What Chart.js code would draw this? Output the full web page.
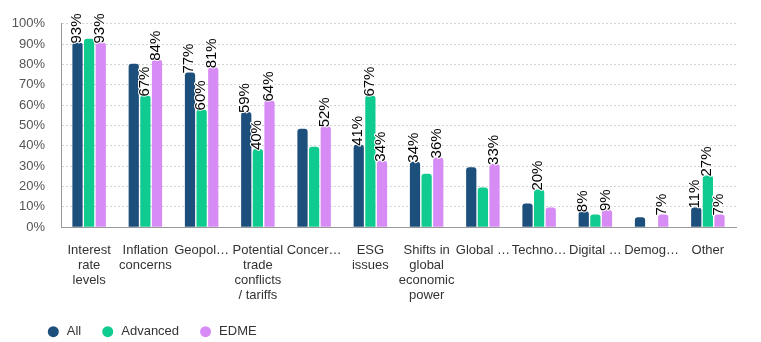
<!DOCTYPE html>
<html>
<head>
<meta charset="utf-8">
<script src="https://cdn.jsdelivr.net/npm/chart.js"></script>
<style>
  body { margin: 0; background: #fff; }
  #wrap { width: 761px; height: 342px; }
</style>
</head>
<body>
<div id="wrap"><canvas id="chart"></canvas></div>
<script>
const categories = [
    ["Interest", "rate", "levels"],
    ["Inflation", "concerns"],
    "Geopol…",
    ["Potential", "trade", "conflicts", "/ tariffs"],
    "Concer…",
    ["ESG", "issues"],
    ["Shifts in", "global", "economic", "power"],
    "Global …",
    "Techno…",
    "Digital …",
    "Demog…",
    "Other",
];

const allValues = [90.8, 80.4, 76, 56.6, 48.4, 40.5, 32.2, 29.5, 11.7, 7.9, 4.9, 9.7];
const advancedValues = [92.6, 64.7, 57.9, 38.4, 39.5, 64.7, 26.3, 19.5, 18.5, 6.3, null, 25.4];
const edmeValues = [90.8, 82.3, 78.6, 62.3, 49.6, 32.7, 34.3, 31.1, 9.7, 8.4, 6.3, 6.3];

// labels that are visible in the picture (others are hidden by overlap)
const allLabels = ["93%", null, "77%", "59%", null, "41%", "34%", null, null, "8%", null, "11%"];
const advancedLabels = [null, "67%", "60%", "40%", null, "67%", null, null, "20%", null, null, "27%"];
const edmeLabels = ["93%", "84%", "81%", "64%", "52%", "34%", "36%", "33%", null, "9%", "7%", "7%"];

const seriesNames = ["All", "Advanced", "EDME"];
const seriesColors = ["#1d4f7c", "#10cb8f", "#d78cf5"];
const yTicks = [0, 10, 20, 30, 40, 50, 60, 70, 80, 90, 100];

const FONT = "'Liberation Sans', Arial, sans-serif";

const barLabels = {
    id: "barLabels",
    afterDatasetsDraw(chart) {
        const ctx = chart.ctx;
        ctx.save();
        ctx.font = "15px " + FONT;
        ctx.textAlign = "left";
        ctx.textBaseline = "middle";
        ctx.lineJoin = "round";
        chart.data.datasets.forEach((ds, i) => {
            const meta = chart.getDatasetMeta(i);
            meta.data.forEach((bar, j) => {
                const text = ds.shownLabels[j];
                if (!text) return;
                ctx.save();
                ctx.translate(bar.x - 1, bar.y + 1);
                ctx.rotate(-Math.PI / 2);
                ctx.strokeStyle = "#fff";
                ctx.lineWidth = 2;
                ctx.strokeText(text, 0, 0);
                ctx.fillStyle = "#000";
                ctx.fillText(text, 0, 0);
                ctx.restore();
            });
        });
        ctx.restore();
    },
};

const bottomLegend = {
    id: "bottomLegend",
    afterDraw(chart) {
        const ctx = chart.ctx;
        ctx.save();
        ctx.font = "13px " + FONT;
        ctx.textBaseline = "middle";
        ctx.textAlign = "left";
        let x = 47.8;
        const y = 331.7;
        seriesNames.forEach((name, i) => {
            ctx.fillStyle = seriesColors[i];
            ctx.beginPath();
            ctx.arc(x + 5.5, y, 5.5, 0, Math.PI * 2);
            ctx.fill();
            ctx.fillStyle = "#333";
            ctx.fillText(name, x + 19, y);
            x += 19 + ctx.measureText(name).width + 21;
        });
        ctx.restore();
    },
};

function makeDataset(i, values, labels) {
    return {
        label: seriesNames[i],
        data: values,
        shownLabels: labels,
        backgroundColor: seriesColors[i],
        borderRadius: { topLeft: 3, topRight: 3, bottomLeft: 0, bottomRight: 0 },
        borderSkipped: "start",
        categoryPercentage: 0.62,
        barPercentage: 0.88,
    };
}

new Chart(document.getElementById("chart"), {
    type: "bar",
    data: {
        labels: categories,
        datasets: [
            makeDataset(0, allValues, allLabels),
            makeDataset(1, advancedValues, advancedLabels),
            makeDataset(2, edmeValues, edmeLabels),
        ],
    },
    options: {
        responsive: true,
        maintainAspectRatio: false,
        animation: false,
        layout: {
            padding: { left: 12, right: 25, top: 22, bottom: 23 },
        },
        plugins: {
            legend: { display: false },
            tooltip: { enabled: false },
        },
        scales: {
            x: {
                grid: { display: false, drawTicks: false },
                border: { display: true, color: "#999" },
                ticks: {
                    color: "#333",
                    padding: 16,
                    maxRotation: 0,
                    autoSkip: false,
                    font: { family: FONT, size: 13, lineHeight: 1.15 },
                },
            },
            y: {
                min: 0,
                max: 100,
                afterBuildTicks: (scale) => {
                    scale.ticks = yTicks.map((v) => ({ value: v }));
                },
                afterFit: (scale) => {
                    scale.width = 49;
                },
                grid: { color: "#d4d4d4", drawTicks: false },
                border: { display: true, color: "#999", dash: [2, 2] },
                ticks: {
                    color: "#555",
                    padding: 16,
                    font: { family: FONT, size: 13 },
                    callback: (v) => v + "%",
                },
            },
        },
    },
    plugins: [barLabels, bottomLegend],
});
</script>
</body>
</html>
